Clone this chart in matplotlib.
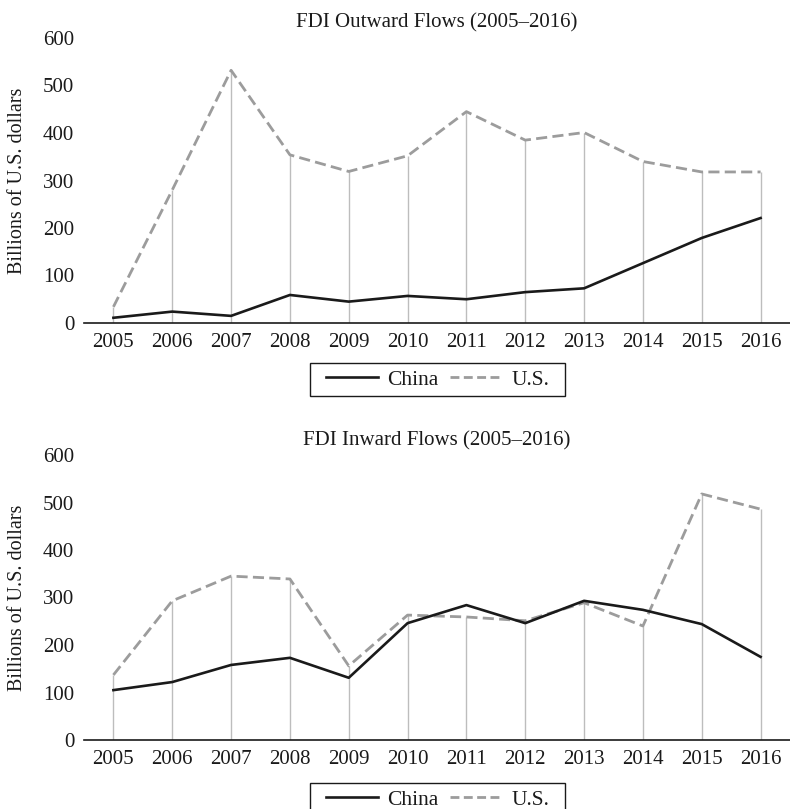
import matplotlib
matplotlib.use("Agg")
import matplotlib.pyplot as plt
from matplotlib.lines import Line2D
from matplotlib.patches import Rectangle

years = [2005, 2006, 2007, 2008, 2009, 2010, 2011, 2012, 2013, 2014, 2015, 2016]
year_labels = [str(y) for y in years]

china_out = [11, 24, 15, 59, 45, 57, 50, 65, 73, 126, 179, 221]
us_out = [34, 280, 532, 354, 319, 352, 445, 385, 401, 340, 318, 318]

china_in = [105, 122, 158, 173, 131, 246, 284, 246, 293, 274, 244, 175]
us_in = [137, 293, 345, 339, 156, 263, 259, 251, 289, 240, 518, 486]

yticks = [0, 100, 200, 300, 400, 500, 600]

titles = ["FDI Outward Flows (2005\u20132016)", "FDI Inward Flows (2005\u20132016)"]
ylabel = "Billions of U.S. dollars"
series_names = ["China", "U.S."]

plt.rcParams['font.family'] = ['Liberation Serif', 'DejaVu Serif']

W, H = 790, 809
fig = plt.figure(figsize=(W / 100, H / 100), dpi=100)

def px_axes(left, top, right, bottom):
    return [left / W, 1 - bottom / H, (right - left) / W, (bottom - top) / H]

DASH = (0, (4.0, 1.9))
panels = [
    (china_out, us_out, titles[0], px_axes(84, 38, 790, 323), 23, 379.5),
    (china_in, us_in, titles[1], px_axes(84, 455, 790, 740), 441, 799.5),
]

legends = []
for china, us, title, rect, title_y, leg_y in panels:
    ax = fig.add_axes(rect)
    ax.vlines(years, 0, us, colors="#bdbdbd", linewidth=1.0, zorder=1)
    ax.plot(years, us, color="#9c9c9c", linewidth=2.0, linestyle=DASH, zorder=2)
    ax.plot(years, china, color="#1a1a1a", linewidth=1.9, zorder=3)
    ax.set_xlim(2004.5, 2016.5)
    ax.set_ylim(0, 600)
    ax.set_xticks(years)
    ax.set_xticklabels(year_labels)
    ax.set_yticks(yticks)
    ax.tick_params(axis="both", length=0, labelsize=15, colors="#1a1a1a")
    ax.tick_params(axis="x", pad=7)
    ax.tick_params(axis="y", pad=7)
    for s in ["top", "right", "left"]:
        ax.spines[s].set_visible(False)
    ax.spines["bottom"].set_color("#1a1a1a")
    ax.spines["bottom"].set_linewidth(1.2)
    ax.spines["bottom"].set_zorder(4)
    ax.set_facecolor("none")
    fig.text(18 / W, (rect[1] + rect[3] / 2), ylabel, rotation=90, ha="center",
             va="center", fontsize=14.5, color="#1a1a1a")
    fig.text(437 / W, 1 - title_y / H, title, ha="center", va="center",
             fontsize=15, color="#1a1a1a")
    handles = [
        Line2D([], [], color="#1a1a1a", linewidth=1.9),
        Line2D([], [], color="#9c9c9c", linewidth=2.0, linestyle=(0, (3.2, 1.6))),
    ]
    leg = fig.legend(handles, series_names, loc="center",
                     bbox_to_anchor=(437.5 / W, 1 - leg_y / H), ncol=2,
                     frameon=False, fontsize=15.5,
                     handlelength=2.45, handletextpad=0.4, columnspacing=0.55,
                     borderpad=0.2, borderaxespad=0)
    for t in leg.get_texts():
        t.set_color("#1a1a1a")
    legends.append(leg)

fig.canvas.draw()
for leg in legends:
    bb = leg.get_window_extent()
    x0 = bb.x0 - 11
    w = bb.width + 22
    yc = (bb.y0 + bb.y1) / 2
    h = 33
    fig.patches.append(Rectangle((x0 / W, (yc - h / 2) / H), w / W, h / H,
                                 transform=fig.transFigure, fill=False,
                                 edgecolor="#1a1a1a", linewidth=1.0))

fig.savefig("out.png", dpi=100, facecolor="white")
